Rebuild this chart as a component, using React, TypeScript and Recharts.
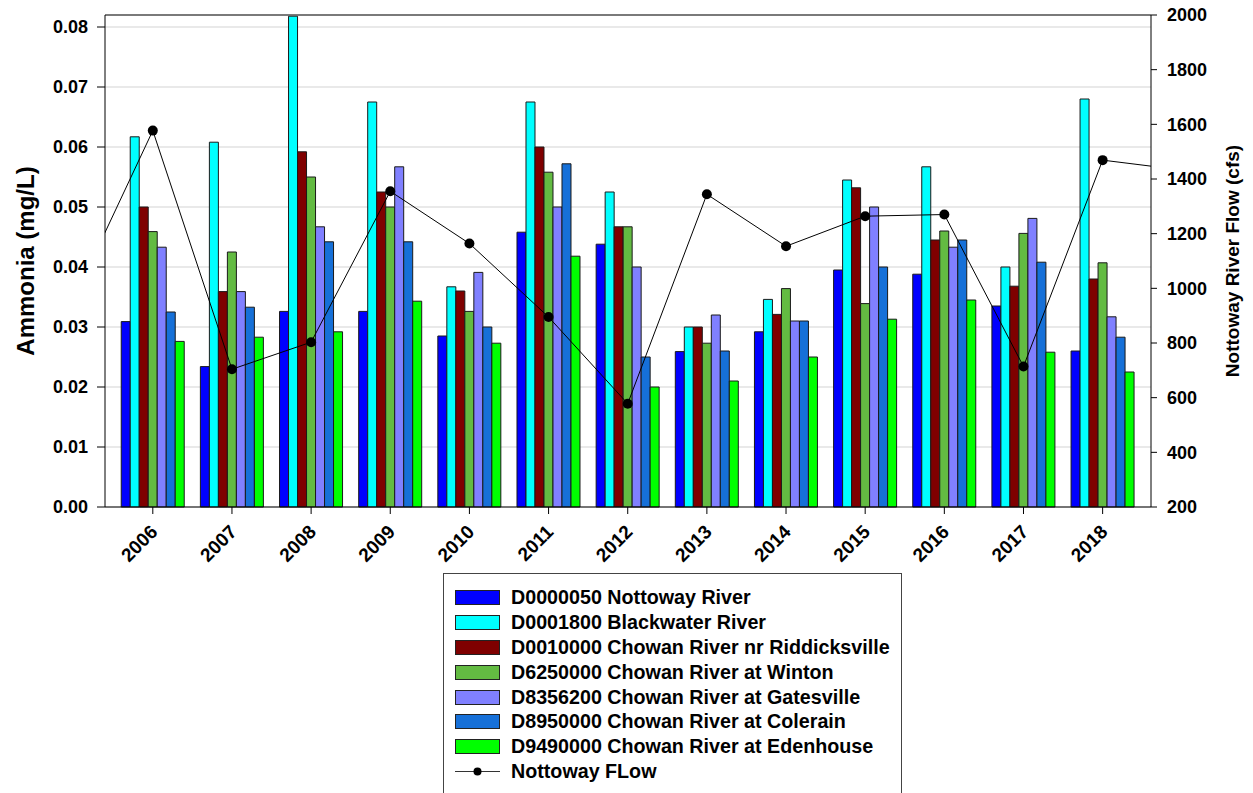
import { Bar, CartesianGrid, ComposedChart, Line, ReferenceLine, XAxis, YAxis } from "recharts";

const FONT = "'Liberation Sans', Arial, Helvetica, sans-serif";

const YEARS = [2006, 2007, 2008, 2009, 2010, 2011, 2012, 2013, 2014, 2015, 2016, 2017, 2018];
// flow line runs past both ends of the plot, so it has one extra year on each side
const FLOW_YEARS = [2005, ...YEARS, 2019];
const FLOW = [960, 1577, 704, 803, 1355, 1164, 895, 578, 1344, 1154, 1264, 1270, 714, 1469, 1433];

const NOTTOWAY = [0.0309, 0.0234, 0.0326, 0.0326, 0.0285, 0.0458, 0.0438, 0.0259, 0.0292, 0.0395, 0.0388, 0.0335, 0.026];
const BLACKWATER = [0.0617, 0.0608, 0.0818, 0.0675, 0.0367, 0.0675, 0.0525, 0.03, 0.0346, 0.0545, 0.0567, 0.04, 0.068];
const RIDDICKSVILLE = [0.05, 0.0359, 0.0592, 0.0525, 0.036, 0.06, 0.0467, 0.03, 0.0321, 0.0532, 0.0445, 0.0368, 0.038];
const WINTON = [0.0459, 0.0425, 0.055, 0.05, 0.0326, 0.0558, 0.0467, 0.0273, 0.0364, 0.0339, 0.046, 0.0456, 0.0407];
const GATESVILLE = [0.0433, 0.0359, 0.0467, 0.0567, 0.0391, 0.05, 0.04, 0.032, 0.031, 0.05, 0.0433, 0.0481, 0.0317];
const COLERAIN = [0.0325, 0.0333, 0.0442, 0.0442, 0.03, 0.0572, 0.025, 0.026, 0.031, 0.04, 0.0445, 0.0408, 0.0283];
const EDENHOUSE = [0.0276, 0.0283, 0.0292, 0.0343, 0.0273, 0.0418, 0.02, 0.021, 0.025, 0.0313, 0.0345, 0.0258, 0.0225];

const SERIES = [
  { key: "s1", name: "D0000050 Nottoway River", color: "#0000ff", values: NOTTOWAY },
  { key: "s2", name: "D0001800 Blackwater River", color: "#00ffff", values: BLACKWATER },
  { key: "s3", name: "D0010000 Chowan River nr Riddicksville", color: "#7f0000", values: RIDDICKSVILLE },
  { key: "s4", name: "D6250000 Chowan River at Winton", color: "#63bb42", values: WINTON },
  { key: "s5", name: "D8356200 Chowan River at Gatesville", color: "#8080ff", values: GATESVILLE },
  { key: "s6", name: "D8950000 Chowan River at Colerain", color: "#1670d8", values: COLERAIN },
  { key: "s7", name: "D9490000 Chowan River at Edenhouse", color: "#00ff00", values: EDENHOUSE },
];

const LEFT_TICKS = [0, 0.01, 0.02, 0.03, 0.04, 0.05, 0.06, 0.07, 0.08];
const RIGHT_TICKS = [200, 400, 600, 800, 1000, 1200, 1400, 1600, 1800, 2000];

const data = FLOW_YEARS.map((year, i) => {
  const row: Record<string, number | null> = { year, flow: FLOW[i] };
  const idx = YEARS.indexOf(year);
  SERIES.forEach((s) => {
    row[s.key] = idx >= 0 ? s.values[idx] : null;
  });
  return row;
});

const tickStyle = { fontSize: 18, fontWeight: 700, fill: "#000", fontFamily: FONT };

function YearTick(props: { x?: number; y?: number; payload?: { value: number } }) {
  const x = (props.x ?? 0) + 6;
  const y = (props.y ?? 0) + 3;
  return (
    <text x={x} y={y} transform={`rotate(-45, ${x}, ${y})`} textAnchor="end" style={{ ...tickStyle, fontSize: 19 }}>
      {props.payload?.value}
    </text>
  );
}

function LegendBox() {
  return (
    <div
      style={{
        position: "absolute",
        left: 443,
        top: 573,
        width: 459,
        height: 240,
        border: "1px solid #444",
        boxSizing: "border-box",
        paddingTop: 11,
        paddingLeft: 11,
        fontFamily: FONT,
        fontWeight: 700,
        fontSize: 19.7,
        color: "#000",
      }}
    >
      {SERIES.map((s) => (
        <div key={s.key} style={{ display: "flex", alignItems: "center", height: 24.9 }}>
          <div style={{ width: 45, height: 15, background: s.color, border: "1px solid #222", boxSizing: "border-box" }} />
          <span style={{ marginLeft: 11, whiteSpace: "nowrap" }}>{s.name}</span>
        </div>
      ))}
      <div style={{ display: "flex", alignItems: "center", height: 24.9 }}>
        <svg width={45} height={15}>
          <line x1={0} y1={7.5} x2={45} y2={7.5} stroke="#333" strokeWidth={1.2} />
          <circle cx={22.5} cy={7.5} r={4} fill="#000" />
        </svg>
        <span style={{ marginLeft: 11, whiteSpace: "nowrap" }}>Nottoway FLow</span>
      </div>
    </div>
  );
}

export default function App() {
  return (
    <div style={{ position: "relative", width: 1253, height: 793, overflow: "hidden", background: "#fff" }}>
      <style>{`body{margin:0}`}</style>
      <ComposedChart
        width={1253}
        height={793}
        data={data}
        barGap={0}
        margin={{ top: 15, right: 0, bottom: 226, left: 0 }}
      >
        <CartesianGrid yAxisId="nh3" vertical={false} stroke="#d4d4d4" strokeWidth={1.2} />
        <XAxis
          dataKey="year"
          type="number"
          domain={[2005.396, 2018.611]}
          allowDataOverflow
          ticks={YEARS}
          interval={0}
          height={60}
          tickSize={7}
          tickMargin={16}
          tick={<YearTick />}
          stroke="#000"
        />
        <YAxis
          yAxisId="nh3"
          width={105}
          domain={[0, 0.082]}
          ticks={LEFT_TICKS}
          tickFormatter={(v: number) => v.toFixed(2)}
          tickSize={8}
          tickMargin={9}
          tick={tickStyle}
          stroke="#000"
          label={{
            value: "Ammonia (mg/L)",
            angle: -90,
            position: "insideLeft",
            offset: 25,
            style: { textAnchor: "middle", fontSize: 24, fontWeight: 700, fill: "#000", fontFamily: FONT },
          }}
        />
        <YAxis
          yAxisId="flow"
          orientation="right"
          width={102}
          domain={[200, 2000]}
          ticks={RIGHT_TICKS}
          tickSize={6}
          tickMargin={10}
          tick={tickStyle}
          stroke="#000"
          label={{
            value: "Nottoway River Flow (cfs)",
            angle: -90,
            position: "insideRight",
            offset: 21,
            style: { textAnchor: "middle", fontSize: 19, fontWeight: 700, fill: "#000", fontFamily: FONT },
          }}
        />
        <ReferenceLine yAxisId="flow" y={2000} stroke="#555" strokeWidth={1.5} />
        {SERIES.map((s) => (
          <Bar
            key={s.key}
            yAxisId="nh3"
            dataKey={s.key}
            name={s.name}
            fill={s.color}
            stroke="#1a1a1a"
            strokeWidth={1}
            barSize={9}
            isAnimationActive={false}
          />
        ))}
        <Line
          yAxisId="flow"
          dataKey="flow"
          name="Nottoway FLow"
          stroke="#000"
          strokeWidth={1}
          dot={{ r: 5, fill: "#000", stroke: "#000", strokeWidth: 0 }}
          isAnimationActive={false}
        />
      </ComposedChart>
      <LegendBox />
    </div>
  );
}
